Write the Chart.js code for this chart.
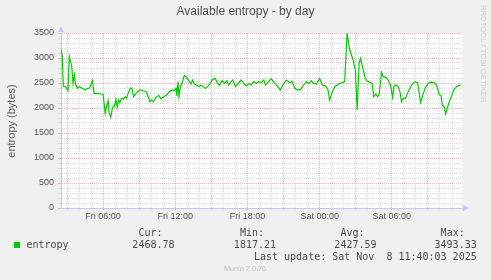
<!DOCTYPE html>
<html lang="en">
<head>
<meta charset="UTF-8">
<title>Available entropy - by day</title>
<script src="https://cdn.jsdelivr.net/npm/chart.js@4"></script>
<style>
  body { margin: 0; background: #f0f0f0; }
  canvas { display: block; }
</style>
</head>
<body>
<canvas id="entropyChart" width="491" height="280"></canvas>
<script>
// time of each sample, in hours since Fri 00:00
const hours = [
  2.5, 2.61, 2.69, 2.89, 3.08, 3.19, 3.39, 3.5, 3.61, 3.69, 3.86, 4.0, 4.28, 4.5, 4.69, 4.89,
  5.11, 5.25, 5.53, 5.81, 6.0, 6.17, 6.28, 6.42, 6.5, 6.64, 6.78, 6.92, 7.06, 7.17, 7.28, 7.39,
  7.53, 7.67, 7.83, 7.94, 8.08, 8.25, 8.39, 8.53, 8.72, 8.94, 9.14, 9.33, 9.56, 9.75, 9.89, 10.03,
  10.17, 10.39, 10.61, 10.81, 11.03, 11.22, 11.5, 11.72, 11.92, 12.06, 12.14, 12.22, 12.31, 12.42,
  12.56, 12.75, 12.94, 13.17, 13.31, 13.44, 13.58, 13.78, 13.94, 14.14, 14.33, 14.5, 14.69, 14.89,
  15.11, 15.33, 15.53, 15.67, 15.89, 16.08, 16.28, 16.44, 16.64, 16.78, 17.0, 17.19, 17.47, 17.69,
  17.89, 18.1, 18.31, 18.5, 18.72, 18.94, 19.14, 19.36, 19.5, 19.69, 19.97, 20.25, 20.53, 20.72,
  20.94, 21.22, 21.5, 21.72, 21.92, 22.14, 22.42, 22.61, 22.89, 23.11, 23.31, 23.5, 23.72, 24.0,
  24.22, 24.5, 24.69, 24.83, 25.06, 25.25, 25.47, 25.67, 25.89, 26.08, 26.28, 26.5, 26.78, 26.97,
  27.11, 27.19, 27.28, 27.39, 27.56, 27.75, 27.89, 28.11, 28.36, 28.5, 28.67, 28.81, 28.94, 29.14,
  29.28, 29.5, 29.69, 29.89, 30.06, 30.17, 30.33, 30.53, 30.67, 30.81, 30.94, 31.14, 31.36, 31.64,
  31.92, 32.14, 32.28, 32.39, 32.61, 32.83, 33.03, 33.22, 33.5, 33.72, 33.94, 34.08, 34.19, 34.36,
  34.47, 34.61, 34.78, 34.92, 35.11, 35.25, 35.39, 35.61, 35.72
];
const entropy = [
  3173, 3027, 2440, 2427, 2347, 3027, 2827, 2493, 2660, 2493, 2393, 2427, 2393, 2360, 2393, 2400,
  2547, 2293, 2293, 2280, 2273, 1893, 2027, 2147, 1907, 1817.21, 2013, 2027, 2173, 2013, 2160, 2107,
  2193, 2173, 2227, 2193, 2293, 2393, 2400, 2227, 2293, 2340, 2360, 2340, 2340, 2227, 2127, 2160,
  2127, 2207, 2253, 2187, 2227, 2253, 2320, 2360, 2347, 2393, 2240, 2527, 2227, 2427,
  2493, 2653, 2613, 2527, 2480, 2560, 2480, 2460, 2427, 2453, 2427, 2393, 2427, 2493,
  2573, 2587, 2493, 2453, 2547, 2493, 2547, 2460, 2527, 2560, 2427, 2480, 2560, 2493,
  2440, 2490, 2460, 2527, 2493, 2527, 2513, 2560, 2460, 2507, 2587, 2493, 2427, 2360,
  2460, 2560, 2507, 2527, 2393, 2360, 2373, 2440, 2527, 2493, 2547, 2493, 2480, 2587,
  2460, 2440, 2360, 2160, 2327, 2427, 2460, 2493, 2507, 2527, 3493.33, 3160, 2960, 2760,
  1960, 2427, 2893, 2993, 2827, 2627, 2547, 2520, 2493, 2227, 2280, 2227, 2260, 2713,
  2627, 2613, 2560, 2460, 2213, 2427, 2460, 2427, 2327, 2127, 2193, 2193, 2327, 2460,
  2527, 2507, 2287, 2107, 2287, 2427, 2493, 2513, 2507, 2460, 2260, 2260, 2060, 2013,
  1880, 2000, 2127, 2213, 2340, 2393, 2427, 2453, 2468.78
];
const dayNames = ['Fri', 'Sat'];
const statLabels = ['Cur:', 'Min:', 'Avg:', 'Max:'];
const statValues = ['2468.78', '1817.21', '2427.59', '3493.33'];
const lastUpdate = 'Last update: Sat Nov  8 11:40:03 2025';

const GREEN = '#00cc00';
const AXIS = '#c6c6f6';
const MAJOR = 'rgba(225, 120, 120, 0.5)';
const MINOR = '#dddddd';
const TEXT = '#555555';

const points = hours.map((h, i) => ({ x: h, y: entropy[i] }));

function pad2(n) {
    return n < 10 ? '0' + n : '' + n;
}

// backgrounds, title, legend and the rrdtool bits drawn by hand
const munin = {
    id: 'munin',
    beforeDraw(chart) {
        const c = chart.ctx;
        const a = chart.chartArea;
        c.save();
        c.fillStyle = '#f0f0f0';
        c.fillRect(0, 0, chart.width, chart.height);
        c.fillStyle = '#ffffff';
        c.fillRect(a.left, a.top, a.right - a.left, a.bottom - a.top);
        c.restore();
    },
    afterDraw(chart) {
        const c = chart.ctx;
        const a = chart.chartArea;
        c.save();

        // axis arrows
        c.fillStyle = AXIS;
        c.beginPath();
        c.moveTo(a.left - 3, a.top - 1);
        c.lineTo(a.left + 3, a.top - 1);
        c.lineTo(a.left, a.top - 7);
        c.closePath();
        c.fill();
        c.beginPath();
        c.moveTo(a.right + 1, a.bottom - 3);
        c.lineTo(a.right + 1, a.bottom + 3);
        c.lineTo(a.right + 7, a.bottom);
        c.closePath();
        c.fill();

        // title
        c.fillStyle = '#505050';
        c.font = '12px "Liberation Sans", Arial, sans-serif';
        c.textAlign = 'center';
        c.textBaseline = 'alphabetic';
        c.fillText('Available entropy - by day', 245.5, 15);

        // y axis title
        c.save();
        c.translate(11.5, 121);
        c.rotate(-Math.PI / 2);
        c.font = '11px "Liberation Sans", Arial, sans-serif';
        c.fillStyle = TEXT;
        c.textBaseline = 'middle';
        c.fillText('entropy (bytes)', 0, 0);
        c.restore();

        // legend
        c.font = '10px "DejaVu Sans Mono", monospace';
        c.fillStyle = '#4a4a4a';
        c.textAlign = 'right';
        const colRight = [174.5, 276, 376.5, 476.7];
        statLabels.forEach((s, i) => c.fillText(s, colRight[i] - 12, 236));
        statValues.forEach((s, i) => c.fillText(s, colRight[i], 248));
        c.fillText(lastUpdate, 476.7, 260);
        c.textAlign = 'left';
        c.fillText('entropy', 26.5, 248);
        c.fillStyle = GREEN;
        c.fillRect(14, 242, 6, 6);

        // footer and watermark
        c.fillStyle = '#c4c4c4';
        c.font = '7.3px "Liberation Sans", Arial, sans-serif';
        c.textAlign = 'center';
        c.fillText('Munin 2.0.76', 245, 271);
        c.save();
        c.translate(481, 5);
        c.rotate(Math.PI / 2);
        c.textAlign = 'left';
        c.fillStyle = '#cfcfcf';
        c.font = '7.7px "Liberation Sans", Arial, sans-serif';
        c.fillText('RRDTOOL / TOBI OETIKER', 0, 0, 98);
        c.restore();

        c.restore();
    }
};

new Chart(document.getElementById('entropyChart'), {
    type: 'line',
    data: {
        datasets: [{
            label: 'entropy',
            data: points,
            borderColor: GREEN,
            borderWidth: 1.2,
            pointRadius: 0,
            tension: 0,
            fill: false
        }]
    },
    options: {
        responsive: false,
        animation: false,
        layout: { padding: { left: 0, top: 33, right: 29, bottom: 52 } },
        plugins: {
            legend: { display: false },
            tooltip: { enabled: false },
            title: { display: false }
        },
        scales: {
            x: {
                type: 'linear',
                min: 2.5,
                max: 35.83,
                afterFit: s => { s.height = 20; },
                ticks: {
                    stepSize: 1,
                    includeBounds: false,
                    autoSkip: false,
                    maxRotation: 0,
                    padding: 1,
                    color: TEXT,
                    font: { family: '"Liberation Sans", Arial, sans-serif', size: 9 },
                    callback: v => {
                        if (v % 6 !== 0) return '';
                        return dayNames[Math.floor(v / 24)] + ' ' + pad2(v % 24) + ':00';
                    }
                },
                grid: {
                    color: ctx => (ctx.tick && ctx.tick.value % 3 === 0 ? MAJOR : MINOR),
                    lineWidth: 1,
                    tickLength: 2
                },
                border: { color: AXIS, width: 1, dash: [1, 1] }
            },
            y: {
                min: 0,
                max: 3500,
                afterFit: s => { s.width = 61; },
                ticks: {
                    stepSize: 100,
                    autoSkip: false,
                    padding: 4,
                    color: TEXT,
                    font: { family: '"Liberation Sans", Arial, sans-serif', size: 9 },
                    callback: v => (v % 500 === 0 ? String(v) : '')
                },
                grid: {
                    color: ctx => (ctx.tick && ctx.tick.value % 500 === 0 ? MAJOR : MINOR),
                    lineWidth: 1,
                    tickLength: 3
                },
                border: { color: AXIS, width: 1, dash: [1, 1] }
            }
        }
    },
    plugins: [munin]
});
</script>
</body>
</html>
